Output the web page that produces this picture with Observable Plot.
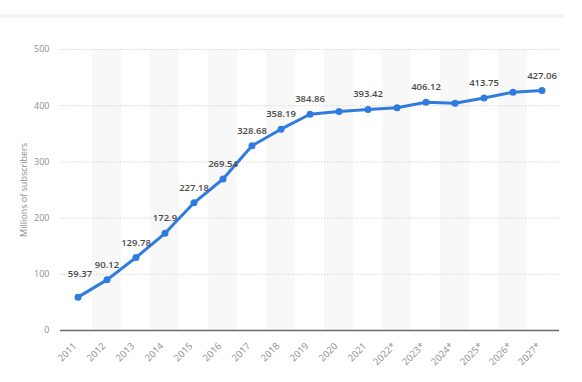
<!DOCTYPE html>
<html>
<head>
<meta charset="utf-8">
<script src="https://cdn.jsdelivr.net/npm/d3@7"></script>
<script src="https://cdn.jsdelivr.net/npm/@observablehq/plot@0.6"></script>
<style>
  html, body { margin: 0; padding: 0; background: #fff; }
  #wrap { position: relative; width: 582px; height: 382px; overflow: hidden; }
  #topbar { position: absolute; left: 0; top: 14px; width: 564px; height: 4px; background: #f4f5f7; }
  #chart { position: absolute; left: 0; top: 0; }
</style>
</head>
<body>
<div id="wrap"><div id="topbar"></div><div id="chart"></div></div>
<script>
const years = ["2011","2012","2013","2014","2015","2016","2017","2018","2019","2020","2021","2022*","2023*","2024*","2025*","2026*","2027*"];
const subscribers = [59.37, 90.12, 129.78, 172.9, 227.18, 269.54, 328.68, 358.19, 384.86, 389.5, 393.42, 396.2, 406.12, 404.5, 413.75, 424.0, 427.06];
const valueLabels = ["59.37","90.12","129.78","172.9","227.18","269.54","328.68","358.19","384.86","","393.42","","406.12","","413.75","","427.06"];
const yTicks = [0, 100, 200, 300, 400, 500];
const yLabel = "Millions of subscribers";

const data = years.map((y, i) => ({year: y, value: subscribers[i], label: valueLabels[i], i}));
const shaded = years.filter((y, i) => i % 2 === 1);

const chart = Plot.plot({
  width: 582,
  height: 382,
  marginLeft: 60,
  marginRight: 23,
  marginTop: 49,
  marginBottom: 52,
  style: {fontFamily: "'Open Sans', sans-serif", background: "transparent"},
  x: {type: "band", domain: years, padding: 0},
  y: {domain: [0, 500]},
  marks: [
    Plot.barY(shaded, {x: d => d, y1: 0, y2: 500, fill: "#f8f8f8"}),
    Plot.ruleY(yTicks.filter(t => t > 0), {stroke: "#d6d6d6", strokeDasharray: "1.5,1.5", strokeWidth: 1}),
    Plot.ruleY([0], {stroke: "#6b6b6b", strokeWidth: 1.3}),
    Plot.axisY({ticks: yTicks, tickSize: 0, tickPadding: 11, fontSize: 9, color: "#8e8e8e",
      label: yLabel, labelAnchor: "center", labelArrow: "none", labelOffset: 40}),
    Plot.axisX({tickRotate: -45, tickSize: 0, tickPadding: 14, dx: -3, fontSize: 9.5, color: "#8e8e8e", label: null}),
    Plot.line(data, {x: "year", y: "value", stroke: "#2f7be0", strokeWidth: 3, curve: "linear"}),
    Plot.dot(data, {x: "year", y: "value", fill: "#2f7be0", r: 3.5}),
    Plot.text(data.filter(d => d.label && d.i > 0), {x: "year", y: "value", text: "label", dy: -15, fontSize: 9.5, fontWeight: 600, fill: "#4a4a4a"}),
    Plot.text(data.filter(d => d.label && d.i === 0), {x: "year", y: "value", text: "label", dy: -23, dx: 2, fontSize: 9.5, fontWeight: 600, fill: "#4a4a4a"})
  ]
});
document.getElementById("chart").appendChild(chart);
</script>
</body>
</html>
